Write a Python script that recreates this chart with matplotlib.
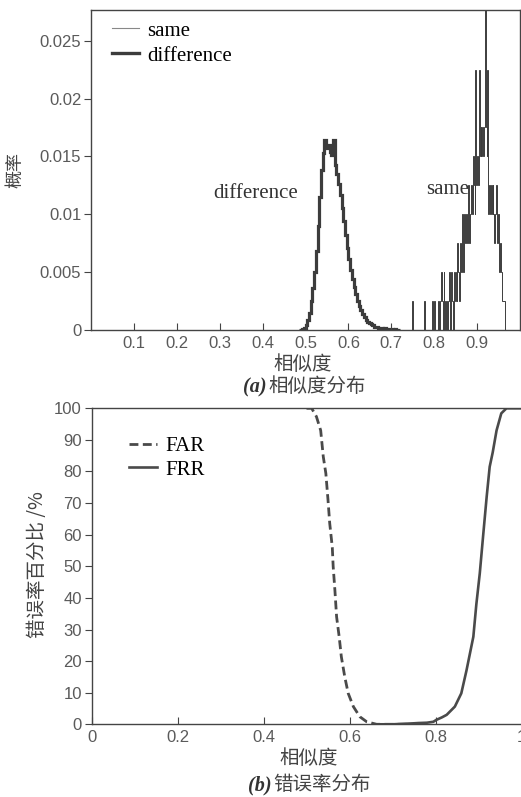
# ---------------------- 1. 基础配置 ----------------------
import numpy as np
import matplotlib
matplotlib.use('Agg')
import matplotlib.pyplot as plt

plt.rcParams['font.family'] = ['Liberation Sans', 'Noto Sans CJK SC']
plt.rcParams['axes.unicode_minus'] = False

CJK = ['Noto Sans CJK SC', 'DejaVu Sans']
SERIF = ['Liberation Serif', 'DejaVu Serif']
LINE = '#3c3c3c'
TICK = '#5a5a5a'
LABEL = '#444444'

# ---------------------- 2. 数据 ----------------------
# 异类样本相似度直方图（bin 宽 0.004，起点 0.484）
diff_start, diff_width = 0.484, 0.004
diff_prob = [0.0, 0.0, 0.0001, 0.0002, 0.0004, 0.0009, 0.0015, 0.0025, 0.0036, 0.0050,
             0.0068, 0.0090, 0.0115, 0.0138, 0.0153, 0.0164, 0.0157, 0.0160, 0.0154, 0.0151,
             0.0164, 0.0143, 0.0135, 0.0126, 0.0117, 0.0105, 0.0094, 0.0082, 0.0071, 0.0061,
             0.0052, 0.0044, 0.0037, 0.0031, 0.0025, 0.0021, 0.0017, 0.0014, 0.0011, 0.0009,
             0.0007, 0.0006, 0.0005, 0.0004, 0.0003, 0.0003, 0.0002, 0.0002, 0.0002, 0.0001,
             0.0002, 0.0001, 0.0001, 0.0001, 0.0001, 0.0, 0.0001, 0.0, 0.0]

# 同类样本相似度直方图（bin 宽 0.002，起点 0.740，计数 × 0.0025）
same_start, same_width, same_unit = 0.740, 0.002, 0.0025
same_count = [0, 0, 0, 0, 1, 0, 0, 0, 0, 0,
              0, 0, 0, 0, 0, 0, 0, 0, 1, 0,
              0, 0, 0, 0, 0, 0, 0, 0, 1, 0,
              1, 0, 0, 0, 0, 1, 0, 1, 2, 1,
              0, 2, 1, 0, 1, 0, 1, 2, 0, 1,
              2, 1, 0, 2, 1, 2, 1, 3, 2, 1,
              3, 2, 4, 3, 2, 4, 3, 4, 3, 5,
              4, 3, 4, 5, 4, 6, 5, 4, 9, 5,
              6, 5, 9, 6, 7, 6, 7, 6, 7, 12,
              7, 6, 9, 4, 5, 4, 5, 4, 5, 4,
              3, 4, 5, 3, 4, 3, 2, 3, 2, 1,
              1, 1, 0, 0, 0]

# 错误率曲线（两端平直段与坐标轴重合，只画变化部分）
far_x = [0.50, 0.512, 0.523, 0.533, 0.539, 0.545, 0.550, 0.554, 0.560, 0.562, 0.566,
         0.570, 0.576, 0.581, 0.589, 0.597, 0.609, 0.624, 0.640, 0.663, 0.75, 0.78]
far_y = [100, 100, 97.4, 93, 84.7, 79.4, 71, 63.6, 56, 50, 42.5,
         34, 27.7, 21.4, 15, 9.8, 5.6, 2.4, 0.8, 0, 0, 0]
frr_x = [0.66, 0.70, 0.748, 0.76, 0.78, 0.795, 0.802, 0.815, 0.826, 0.845, 0.860, 0.872,
         0.888, 0.895, 0.903, 0.911, 0.919, 0.926, 0.933, 0.942, 0.953, 0.965, 1.0]
frr_y = [0, 0, 0.3, 0.4, 0.5, 0.8, 1.4, 2.2, 3, 5.6, 9.8, 17,
         27.7, 38, 47.8, 60, 72, 81.5, 86, 93, 98.4, 100, 100]

top_xticks = [0.1, 0.2, 0.3, 0.4, 0.5, 0.6, 0.7, 0.8, 0.9]
top_yticks = [0, 0.005, 0.01, 0.015, 0.02, 0.025]
bot_xticks = [0, 0.2, 0.4, 0.6, 0.8, 1.0]
bot_yticks = [0, 10, 20, 30, 40, 50, 60, 70, 80, 90, 100]


def style_axes(ax):
    for sp in ax.spines.values():
        sp.set_color('#444444')
        sp.set_linewidth(1.0)
    ax.tick_params(axis='x', direction='in', length=5, width=0.8, colors='#444444',
                   labelcolor=TICK, labelsize=12, pad=4)
    ax.tick_params(axis='y', direction='out', length=5, width=0.8, colors='#444444',
                   labelcolor=TICK, labelsize=12, pad=2)


# ---------------------- 3. 画图 ----------------------
W, H = 521, 797
fig = plt.figure(figsize=(W / 100, H / 100), dpi=100, facecolor='white')

# (a) 相似度分布
ax1 = fig.add_axes([91 / W, (H - 330) / H, 429 / W, 320 / H])
diff_edges = diff_start + diff_width * np.arange(len(diff_prob) + 1)
same_edges = same_start + same_width * np.arange(len(same_count) + 1)
same_prob = np.array(same_count) * same_unit
ax1.stairs(same_prob, same_edges, color=LINE, linewidth=0.7, baseline=0, label='same')
ax1.stairs(diff_prob, diff_edges, color=LINE, linewidth=2.3, baseline=0, label='difference')
ax1.set_xlim(0, 1)
ax1.set_ylim(0, 0.02765)
ax1.set_xticks(top_xticks)
ax1.set_xticklabels([f'{v:g}' for v in top_xticks])
ax1.set_yticks(top_yticks)
ax1.set_yticklabels([f'{v:g}' for v in top_yticks])
style_axes(ax1)
ax1.text(0.284, 0.0118, 'difference', family=SERIF, fontsize=15, color='#333333', va='center')
ax1.text(0.781, 0.0121, 'same', family=SERIF, fontsize=15, color='#333333', va='center')
h_same = plt.Line2D([], [], color='#888888', linewidth=0.8)
h_diff = plt.Line2D([], [], color=LINE, linewidth=2.4)
ax1.legend([h_same, h_diff], ['same', 'difference'], loc='upper left', frameon=False,
           bbox_to_anchor=(0.049, 0.965), handlelength=1.3, handletextpad=0.38,
           labelspacing=0.25, borderaxespad=0, borderpad=0,
           prop={'family': SERIF, 'size': 15})

fig.text(15 / W, 1 - 170 / H, '概率', family=CJK, fontsize=13, color=LABEL,
         rotation=90, ha='center', va='center')
fig.text(303 / W, 1 - 364 / H, '相似度', family=CJK, fontsize=14, color=LABEL,
         ha='center', va='center')
fig.text(267 / W, 1 - 387 / H, '(a)', family=SERIF, fontsize=14.5, style='italic',
         weight='bold', color='#333333', ha='right', va='center')
fig.text(268 / W, 1 - 387 / H, '相似度分布', family=CJK, fontsize=14, color=LABEL,
         ha='left', va='center')

# (b) 错误率分布
ax2 = fig.add_axes([91.5 / W, (H - 724.3) / H, 430 / W, 316 / H])
ax2.plot(far_x, far_y, color='#4a4a4a', linewidth=2.0, linestyle=(0, (3.2, 1.6)), label='FAR')
ax2.plot(frr_x, frr_y, color='#4a4a4a', linewidth=1.9, label='FRR')
ax2.set_xlim(0, 1)
ax2.set_ylim(0, 100)
ax2.set_xticks(bot_xticks)
ax2.set_xticklabels([f'{v:g}' for v in bot_xticks])
ax2.set_yticks(bot_yticks)
style_axes(ax2)
ax2.legend(loc='upper left', frameon=False, bbox_to_anchor=(0.087, 0.91),
           handlelength=1.35, handletextpad=0.4, labelspacing=0.18, borderaxespad=0,
           borderpad=0, prop={'family': SERIF, 'size': 15})

fig.text(38 / W, 1 - 565 / H, '错误率百分比 /%', family=CJK, fontsize=14, color=LABEL,
         rotation=90, ha='center', va='center')
fig.text(309 / W, 1 - 758 / H, '相似度', family=CJK, fontsize=14, color=LABEL,
         ha='center', va='center')
fig.text(272 / W, 1 - 785 / H, '(b)', family=SERIF, fontsize=14.5, style='italic',
         weight='bold', color='#333333', ha='right', va='center')
fig.text(273 / W, 1 - 785 / H, '错误率分布', family=CJK, fontsize=14, color=LABEL,
         ha='left', va='center')

plt.savefig('out.png', dpi=100)
